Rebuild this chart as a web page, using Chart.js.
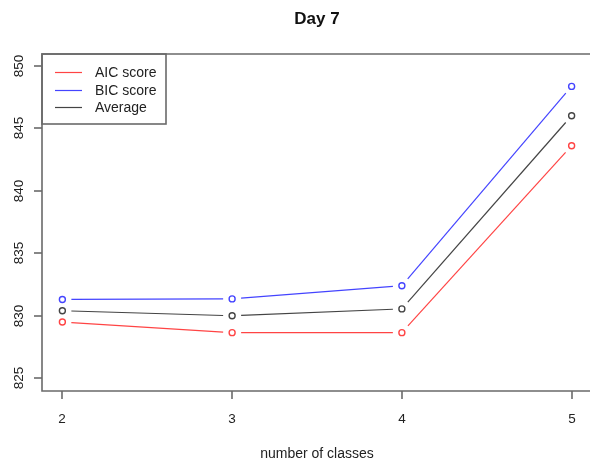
<!DOCTYPE html>
<html lang="en">
<head>
    <meta charset="UTF-8">
    <title>Day 7</title>
    <script src="https://cdn.jsdelivr.net/npm/chart.js"></script>
    <style>
        html, body { margin: 0; padding: 0; overflow: hidden; background: #fff; }
    </style>
</head>
<body>
    <canvas id="dayChart" width="600" height="461"></canvas>

    <script>
        // values
        const classes = [2, 3, 4, 5];
        const aicScore = [829.5, 828.65, 828.65, 843.6];
        const bicScore = [831.3, 831.35, 832.4, 848.35];
        const average = [830.4, 830.0, 830.55, 846.0];

        const xTicks = [2, 3, 4, 5];
        const yTicks = [825, 830, 835, 840, 845, 850];

        const seriesNames = ['AIC score', 'BIC score', 'Average'];
        const seriesColors = ['#ff4444', '#4444ff', '#444444'];
        const frameColor = '#6a6a6a';

        function toPoints(values) {
            return classes.map((c, i) => ({ x: c, y: values[i] }));
        }

        // R style: type = "b" (segments stop short of the points), box, outside ticks
        const rPlot = {
            id: 'rPlot',
            beforeDatasetsDraw(chart) {
                const ctx = chart.ctx;
                const gap = 9;
                ctx.save();
                ctx.lineWidth = 1.2;
                chart.data.datasets.forEach((ds, i) => {
                    const pts = chart.getDatasetMeta(i).data;
                    ctx.strokeStyle = ds.borderColor;
                    for (let k = 0; k < pts.length - 1; k++) {
                        const a = pts[k], b = pts[k + 1];
                        const dx = b.x - a.x, dy = b.y - a.y;
                        const len = Math.sqrt(dx * dx + dy * dy);
                        if (len <= 2 * gap) continue;
                        const ux = dx / len, uy = dy / len;
                        ctx.beginPath();
                        ctx.moveTo(a.x + ux * gap, a.y + uy * gap);
                        ctx.lineTo(b.x - ux * gap, b.y - uy * gap);
                        ctx.stroke();
                    }
                });
                ctx.restore();
            },
            afterDraw(chart) {
                const ctx = chart.ctx;
                const area = chart.chartArea;
                const xs = chart.scales.x, ys = chart.scales.y;
                const tickLen = 8;
                const left = Math.round(area.left), top = Math.round(area.top);
                const bottom = Math.round(area.bottom);
                ctx.save();

                // box (right side falls outside the picture)
                ctx.strokeStyle = frameColor;
                ctx.lineWidth = 1.6;
                ctx.beginPath();
                ctx.moveTo(area.right, top);
                ctx.lineTo(left, top);
                ctx.lineTo(left, bottom);
                ctx.lineTo(area.right, bottom);
                ctx.stroke();

                // x axis ticks and labels
                ctx.fillStyle = '#222';
                ctx.font = '13.5px "Liberation Sans", Arial, sans-serif';
                ctx.textAlign = 'center';
                ctx.textBaseline = 'alphabetic';
                xTicks.forEach(v => {
                    const px = Math.round(xs.getPixelForValue(v));
                    ctx.beginPath();
                    ctx.moveTo(px, bottom);
                    ctx.lineTo(px, bottom + tickLen);
                    ctx.stroke();
                    ctx.fillText(String(v), px, 423);
                });

                // y axis ticks and rotated labels
                yTicks.forEach(v => {
                    const py = Math.round(ys.getPixelForValue(v));
                    ctx.beginPath();
                    ctx.moveTo(left, py);
                    ctx.lineTo(left - tickLen, py);
                    ctx.stroke();
                    ctx.save();
                    ctx.translate(22.5, py);
                    ctx.rotate(-Math.PI / 2);
                    ctx.textAlign = 'center';
                    ctx.textBaseline = 'alphabetic';
                    ctx.fillText(String(v), 0, 0);
                    ctx.restore();
                });

                // title and axis title
                const midX = (area.left + area.right) / 2;
                ctx.fillStyle = '#111';
                ctx.textAlign = 'center';
                ctx.font = 'bold 17px "Liberation Sans", Arial, sans-serif';
                ctx.fillText('Day 7', midX, 23.5);
                ctx.fillStyle = '#222';
                ctx.font = '14px "Liberation Sans", Arial, sans-serif';
                ctx.fillText('number of classes', midX, 458);

                // legend in the top left corner
                const lx = left, ly = top;
                ctx.strokeStyle = frameColor;
                ctx.strokeRect(lx, ly, 124, 70);
                ctx.font = '14px "Liberation Sans", Arial, sans-serif';
                ctx.textAlign = 'left';
                ctx.textBaseline = 'middle';
                seriesNames.forEach((name, i) => {
                    const rowY = ly + 18 + i * 17.7;
                    ctx.strokeStyle = seriesColors[i];
                    ctx.lineWidth = 1.2;
                    ctx.beginPath();
                    ctx.moveTo(lx + 13, Math.round(rowY) + 0.5);
                    ctx.lineTo(lx + 40, Math.round(rowY) + 0.5);
                    ctx.stroke();
                    ctx.fillStyle = '#222';
                    ctx.fillText(name, lx + 53, rowY + 1);
                });
                ctx.restore();
            }
        };

        const ctx = document.getElementById('dayChart').getContext('2d');
        const chart = new Chart(ctx, {
            type: 'line',
            data: {
                datasets: [aicScore, bicScore, average].map((values, i) => ({
                    label: seriesNames[i],
                    data: toPoints(values),
                    showLine: false,
                    borderColor: seriesColors[i],
                    pointBorderColor: seriesColors[i],
                    pointBackgroundColor: 'rgba(255,255,255,0)',
                    pointRadius: 3,
                    pointBorderWidth: 1.4
                }))
            },
            plugins: [rPlot],
            options: {
                responsive: false,
                animation: false,
                layout: {
                    padding: { left: 42, top: 54, right: 8, bottom: 70.5 }
                },
                plugins: {
                    legend: { display: false },
                    tooltip: { enabled: false },
                    title: { display: false }
                },
                scales: {
                    x: { type: 'linear', min: 1.88, max: 5.12, display: false },
                    y: { type: 'linear', min: 824.02, max: 850.94, display: false }
                }
            }
        });
    </script>
</body>
</html>
